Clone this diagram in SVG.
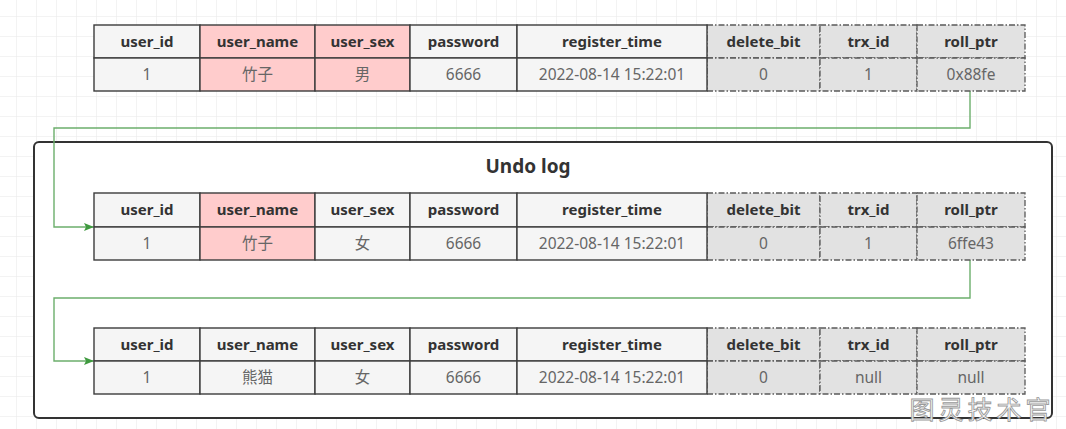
<svg xmlns="http://www.w3.org/2000/svg" width="1066" height="429" viewBox="0 0 1066 429">
<style>
.c{fill:#f5f5f5;stroke:#3c3c3c;stroke-width:1.4}
.p{fill:#ffcccc;stroke:#3c3c3c;stroke-width:1.4}
.d{fill:#e2e2e2;stroke:#5a5a5a;stroke-width:1.3;stroke-dasharray:6 2 1.5 2}
.h{font-family:"Noto Sans","Noto Sans CJK SC",sans-serif;font-size:15px;font-weight:bold;fill:#333;text-anchor:middle}
.v{font-family:"Noto Sans","Noto Sans CJK SC",sans-serif;font-size:15.5px;fill:#666;text-anchor:middle}
.conn{fill:none;stroke:#6cae6c;stroke-width:1.4}
</style>
<defs>
<pattern id="grid" width="20" height="20" patternUnits="userSpaceOnUse" x="16" y="16">
<path d="M0 0H20M0 0V20" fill="none" stroke="#e8e8e8" stroke-width="1"/>
</pattern>
<marker id="arr" markerWidth="10" markerHeight="8" refX="9" refY="4" orient="auto" markerUnits="userSpaceOnUse">
<path d="M0 0L10 4L0 8L2 4Z" fill="#3f9a3f"/>
</marker>
</defs>
<rect width="1066" height="429" fill="#fff"/>
<rect width="1066" height="429" fill="url(#grid)"/>

<g id="undo-log">
<rect x="34" y="142" width="1018" height="276" rx="5" fill="#fff" stroke="#333" stroke-width="2"/>
<text x="528" y="173" font-family="Noto Sans, Noto Sans CJK SC, sans-serif" font-size="19" font-weight="bold" fill="#333" text-anchor="middle">Undo log</text>
</g>

<g id="connectors">
<path class="conn" d="M970 91V128H54V227H93" marker-end="url(#arr)"/>
<path class="conn" d="M970 260V298H54V361H93" marker-end="url(#arr)"/>
</g>

<g id="row-current">
<rect class="d" x="707" y="25" width="113" height="33"/><rect class="d" x="820" y="25" width="97" height="33"/><rect class="d" x="917" y="25" width="108" height="33"/>
<rect class="d" x="707" y="58" width="113" height="33"/><rect class="d" x="820" y="58" width="97" height="33"/><rect class="d" x="917" y="58" width="108" height="33"/>
<rect class="c" x="94" y="25" width="106" height="33"/><rect class="p" x="200" y="25" width="115" height="33"/><rect class="p" x="315" y="25" width="95" height="33"/><rect class="c" x="410" y="25" width="107" height="33"/><rect class="c" x="517" y="25" width="190" height="33"/>
<rect class="c" x="94" y="58" width="106" height="33"/><rect class="p" x="200" y="58" width="115" height="33"/><rect class="p" x="315" y="58" width="95" height="33"/><rect class="c" x="410" y="58" width="107" height="33"/><rect class="c" x="517" y="58" width="190" height="33"/>
<text class="h" x="147" y="47">user_id</text><text class="h" x="257.5" y="47">user_name</text><text class="h" x="362.5" y="47">user_sex</text><text class="h" x="463.5" y="47">password</text><text class="h" x="612" y="47">register_time</text><text class="h" x="763.5" y="47">delete_bit</text><text class="h" x="868.5" y="47">trx_id</text><text class="h" x="971" y="47">roll_ptr</text>
<text class="v" x="147" y="80">1</text><text class="v" x="257.5" y="80">竹子</text><text class="v" x="362.5" y="80">男</text><text class="v" x="463.5" y="80">6666</text><text class="v" x="612" y="80">2022-08-14 15:22:01</text><text class="v" x="763.5" y="80">0</text><text class="v" x="868.5" y="80">1</text><text class="v" x="971" y="80">0x88fe</text>
</g>

<g id="row-undo-1">
<rect class="d" x="707" y="193" width="113" height="34"/><rect class="d" x="820" y="193" width="97" height="34"/><rect class="d" x="917" y="193" width="108" height="34"/>
<rect class="d" x="707" y="227" width="113" height="33"/><rect class="d" x="820" y="227" width="97" height="33"/><rect class="d" x="917" y="227" width="108" height="33"/>
<rect class="c" x="94" y="193" width="106" height="34"/><rect class="p" x="200" y="193" width="115" height="34"/><rect class="c" x="315" y="193" width="95" height="34"/><rect class="c" x="410" y="193" width="107" height="34"/><rect class="c" x="517" y="193" width="190" height="34"/>
<rect class="c" x="94" y="227" width="106" height="33"/><rect class="p" x="200" y="227" width="115" height="33"/><rect class="c" x="315" y="227" width="95" height="33"/><rect class="c" x="410" y="227" width="107" height="33"/><rect class="c" x="517" y="227" width="190" height="33"/>
<text class="h" x="147" y="215">user_id</text><text class="h" x="257.5" y="215">user_name</text><text class="h" x="362.5" y="215">user_sex</text><text class="h" x="463.5" y="215">password</text><text class="h" x="612" y="215">register_time</text><text class="h" x="763.5" y="215">delete_bit</text><text class="h" x="868.5" y="215">trx_id</text><text class="h" x="971" y="215">roll_ptr</text>
<text class="v" x="147" y="249">1</text><text class="v" x="257.5" y="249">竹子</text><text class="v" x="362.5" y="249">女</text><text class="v" x="463.5" y="249">6666</text><text class="v" x="612" y="249">2022-08-14 15:22:01</text><text class="v" x="763.5" y="249">0</text><text class="v" x="868.5" y="249">1</text><text class="v" x="971" y="249">6ffe43</text>
</g>

<g id="row-undo-2">
<rect class="d" x="707" y="328" width="113" height="33"/><rect class="d" x="820" y="328" width="97" height="33"/><rect class="d" x="917" y="328" width="108" height="33"/>
<rect class="d" x="707" y="361" width="113" height="33"/><rect class="d" x="820" y="361" width="97" height="33"/><rect class="d" x="917" y="361" width="108" height="33"/>
<rect class="c" x="94" y="328" width="106" height="33"/><rect class="c" x="200" y="328" width="115" height="33"/><rect class="c" x="315" y="328" width="95" height="33"/><rect class="c" x="410" y="328" width="107" height="33"/><rect class="c" x="517" y="328" width="190" height="33"/>
<rect class="c" x="94" y="361" width="106" height="33"/><rect class="c" x="200" y="361" width="115" height="33"/><rect class="c" x="315" y="361" width="95" height="33"/><rect class="c" x="410" y="361" width="107" height="33"/><rect class="c" x="517" y="361" width="190" height="33"/>
<text class="h" x="147" y="350">user_id</text><text class="h" x="257.5" y="350">user_name</text><text class="h" x="362.5" y="350">user_sex</text><text class="h" x="463.5" y="350">password</text><text class="h" x="612" y="350">register_time</text><text class="h" x="763.5" y="350">delete_bit</text><text class="h" x="868.5" y="350">trx_id</text><text class="h" x="971" y="350">roll_ptr</text>
<text class="v" x="147" y="383">1</text><text class="v" x="257.5" y="383">熊猫</text><text class="v" x="362.5" y="383">女</text><text class="v" x="463.5" y="383">6666</text><text class="v" x="612" y="383">2022-08-14 15:22:01</text><text class="v" x="763.5" y="383">0</text><text class="v" x="868.5" y="383">null</text><text class="v" x="971" y="383">null</text>
</g>

<g id="watermark">
<text x="982" y="419" font-family="Noto Sans CJK SC, sans-serif" font-size="25" fill="#fff" stroke="#9a9a9a" stroke-width="0.9" text-anchor="middle" letter-spacing="4">图灵技术官</text>
</g>
</svg>
